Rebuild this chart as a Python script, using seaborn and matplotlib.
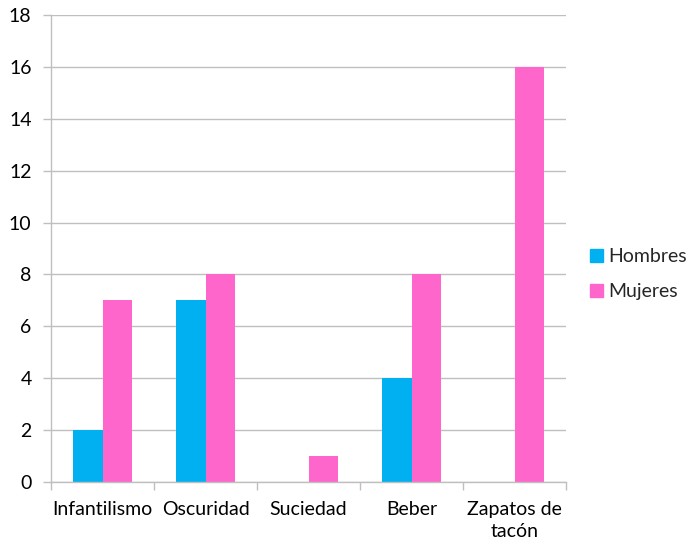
import matplotlib
matplotlib.use("Agg")
import matplotlib.pyplot as plt
import seaborn as sns
import pandas as pd
from matplotlib.patches import Patch

categories = ["Infantilismo", "Oscuridad", "Suciedad", "Beber", "Zapatos de\ntacón"]
hombres = [2, 7, 0, 4, 0]
mujeres = [7, 8, 1, 8, 16]
series = ["Hombres", "Mujeres"]
colors = ["#00B0F0", "#FF66CC"]
yticks = list(range(0, 19, 2))

sns.set_theme(style="white")
plt.rcParams['font.family'] = ['Lato', 'DejaVu Sans']

df = pd.DataFrame({
    "cat": categories * 2,
    "val": hombres + mujeres,
    "serie": [series[0]] * len(categories) + [series[1]] * len(categories),
})

fig = plt.figure(figsize=(7, 5.45), dpi=100)
ax = fig.add_axes([0.0729, 0.1156, 0.7357, 0.8569])

sns.barplot(data=df, x="cat", y="val", hue="serie", palette=colors, width=0.573,
            gap=0, ax=ax, legend=False, saturation=1, linewidth=0)

ax.set_ylim(0, 18)
ax.set_xlim(-0.5, len(categories) - 0.5)
ax.set_yticks(yticks)
ax.set_yticklabels([str(t) for t in yticks], fontsize=14, color="#000000")
ax.yaxis.grid(True, color="#BFBFBF", linewidth=1)
ax.set_axisbelow(True)
ax.set_xlabel("")
ax.set_ylabel("")

ax.set_xticks(range(len(categories)))
ax.set_xticklabels(categories, fontsize=14, color="#000000", linespacing=1.35)
ax.tick_params(axis="x", which="major", length=0, pad=14)
ax.set_xticks([i - 0.5 for i in range(len(categories) + 1)], minor=True)
ax.tick_params(axis="x", which="minor", length=6, color="#BFBFBF", width=1, bottom=True)
ax.tick_params(axis="y", length=6, color="#BFBFBF", width=1, pad=8, left=True)

for s in ["top", "right"]:
    ax.spines[s].set_visible(False)
for s in ["left", "bottom"]:
    ax.spines[s].set_color("#BFBFBF")
    ax.spines[s].set_linewidth(1)

handles = [Patch(facecolor=c, edgecolor=c) for c in colors]
fig.legend(handles, series, loc="center left", bbox_to_anchor=(0.818, 0.497),
           frameon=False, fontsize=14, handletextpad=0.3, labelspacing=0.9,
           handlelength=0.65, handleheight=0.65)

fig.savefig("out.png", dpi=100)
